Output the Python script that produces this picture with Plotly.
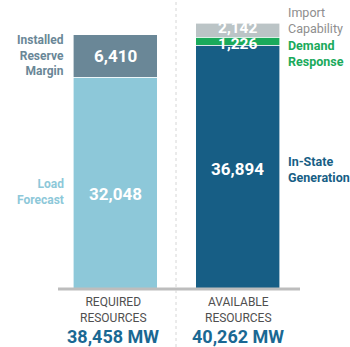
import plotly.graph_objects as go

categories = ["REQUIRED", "AVAILABLE"]
load_forecast = [32048, None]
reserve_margin = [6410, None]
in_state = [None, 36894]
demand_response = [None, 1226]
import_cap = [None, 2142]
totals = [38458, 40262]
bottom_titles = [["REQUIRED", "RESOURCES"], ["AVAILABLE", "RESOURCES"]]

W, H = 350, 347
FONT = "Roboto"

C_LOAD = "#8DC8D9"
C_RES = "#6A8797"
C_GEN = "#175E85"
C_DR = "#1AAA5B"
C_IMP = "#BBC4C6"

fig = go.Figure()
for name, vals, col in [
    ("Load Forecast", load_forecast, C_LOAD),
    ("Installed Reserve Margin", reserve_margin, C_RES),
    ("In-State Generation", in_state, C_GEN),
    ("Demand Response", demand_response, C_DR),
    ("Import Capability", import_cap, C_IMP),
]:
    fig.add_trace(go.Bar(x=categories, y=vals, name=name, marker_color=col,
                         marker_line_width=0.6, marker_line_color="white",
                         hoverinfo="skip"))

def px(x):
    return x / W

def py(y):
    return 1 - y / H

ann = []
def val_ann(cat, yv, text, size, yshift=0):
    ann.append(dict(x=cat, y=yv, xref="x", yref="y", text=f"<b>{text}</b>",
                    showarrow=False, yshift=yshift, borderpad=0,
                    font=dict(family=FONT, size=size, color="white")))

val_ann("REQUIRED", load_forecast[0] / 2, f"{load_forecast[0]:,}", 17, -11)
val_ann("REQUIRED", load_forecast[0] + reserve_margin[0] / 2, f"{reserve_margin[0]:,}", 17)
val_ann("AVAILABLE", in_state[1] / 2, f"{in_state[1]:,}", 17, -2)
val_ann("AVAILABLE", in_state[1] + demand_response[1] / 2, f"{demand_response[1]:,}", 15.5, -3)
val_ann("AVAILABLE", in_state[1] + demand_response[1] + import_cap[1] / 2, f"{import_cap[1]:,}", 15.5, 2)

def side(lines, x, yc, color, anchor, bold=True, size=12):
    txt = "<br>".join(f"<b>{t}</b>" if bold else t for t in lines)
    ann.append(dict(x=px(x), y=py(yc), xref="paper", yref="paper",
                    text=txt, showarrow=False, align=anchor,
                    xanchor=anchor, yanchor="middle", borderpad=0,
                    font=dict(family=FONT, size=size, color=color)))

side(["Installed", "Reserve", "Margin"], 65, 56, C_RES, "right")
side(["Load", "Forecast"], 65, 192, C_LOAD, "right")
side(["Import", "Capability"], 287, 21, "#8E8E8E", "left", bold=False, size=12.5)
side(["Demand", "Response"], 287, 53, C_DR, "left", size=12.5)
side(["In-State", "Generation"], 287, 170, C_GEN, "left", size=12.5)

for cat, title, tot in zip(categories, bottom_titles, totals):
    cx = 113 if cat == "REQUIRED" else 238
    ann.append(dict(x=px(cx), y=py(310), xref="paper", yref="paper",
                    text="<br>".join(title), showarrow=False, xanchor="center",
                    yanchor="middle", align="center", borderpad=0,
                    font=dict(family=FONT, size=12, color="#4F4F4F")))
    ann.append(dict(x=px(cx), y=py(336), xref="paper", yref="paper",
                    text=f"<b>{tot:,} MW</b>", showarrow=False, xanchor="center",
                    yanchor="middle", borderpad=0,
                    font=dict(family=FONT, size=18, color="#1A6893")))

shapes = [
    dict(type="line", xref="paper", yref="y", x0=px(58), x1=px(300), y0=0, y1=0,
         line=dict(color="#BDBDBD", width=3)),
    dict(type="line", xref="paper", yref="paper", x0=px(176), x1=px(176), y0=0, y1=1,
         line=dict(color="#D6D6D6", width=1, dash="dot")),
]

scale = 6.605 / 1000  # px per MW
fig.update_layout(
    width=W, height=H, margin=dict(l=0, r=0, t=0, b=0),
    paper_bgcolor="white", plot_bgcolor="white",
    barmode="stack", bargap=0.314, showlegend=False,
    xaxis=dict(range=[-0.939, 1.918], visible=False, fixedrange=True),
    yaxis=dict(range=[-(H - 289) / scale, 289 / scale], visible=False, fixedrange=True),
    annotations=ann, shapes=shapes,
)
fig.write_html("out.html")
